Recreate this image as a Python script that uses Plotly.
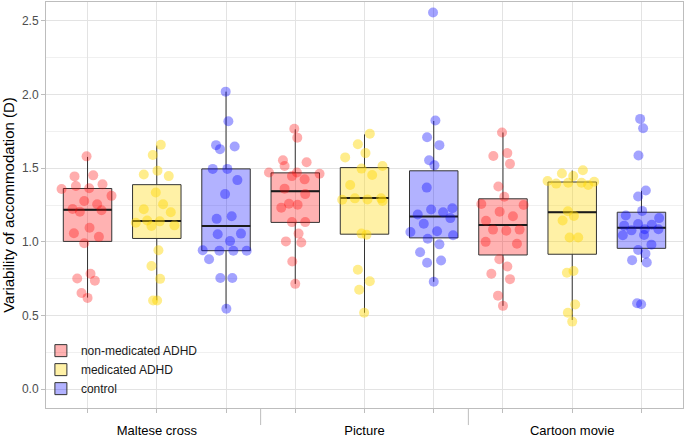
import plotly.graph_objects as go

# conditions shown along the x axis (three boxes per condition)
conditions = ["Maltese cross", "Picture", "Cartoon movie"]
groups = ["non-medicated ADHD", "medicated ADHD", "control"]

# box statistics, one value per condition
nonmed_q1 = [1.003, 1.132, 0.911]
nonmed_median = [1.217, 1.344, 1.114]
nonmed_q3 = [1.362, 1.468, 1.292]
nonmed_low = [0.622, 0.715, 0.566]
nonmed_high = [1.576, 1.763, 1.742]

med_q1 = [1.023, 1.052, 0.916]
med_median = [1.141, 1.297, 1.201]
med_q3 = [1.388, 1.504, 1.406]
med_low = [0.604, 0.519, 0.470]
med_high = [1.653, 1.729, 1.484]

ctrl_q1 = [0.940, 1.027, 0.956]
ctrl_median = [1.108, 1.172, 1.096]
ctrl_q3 = [1.495, 1.482, 1.201]
ctrl_low = [0.548, 0.729, 0.862]
ctrl_high = [2.019, 1.820, 1.346]

# individual subjects (value, horizontal jitter)
nonmed_maltese = [1.580, 1.444, 1.451, 1.359, 1.379, 1.364, 1.390, 1.312, 1.277, 1.255, 1.223,
                  1.205, 1.214, 1.096, 1.058, 1.034, 0.991, 0.784, 0.751, 0.737, 0.653, 0.620]
nonmed_maltese_jit = [-0.014, -0.188, 0.082, -0.375, -0.168, 0.024, 0.216, 0.346, -0.048, 0.139, -0.216,
                      -0.111, 0.202, 0.029, -0.197, 0.164, -0.048, 0.043, -0.149, 0.106, -0.087, 0.0]
med_maltese = [1.658, 1.589, 1.482, 1.457, 1.446, 1.335, 1.255, 1.221, 1.201, 1.130,
               1.145, 1.139, 1.108, 1.112, 0.943, 0.836, 0.749, 0.602, 0.602]
med_maltese_jit = [0.058, -0.058, 0.010, -0.188, 0.173, -0.014, 0.091, -0.188, 0.202, -0.303,
                   -0.139, 0.043, -0.077, 0.255, 0.024, -0.077, 0.048, -0.053, 0.005]
ctrl_maltese = [2.019, 1.818, 1.656, 1.629, 1.647, 1.495, 1.495, 1.419, 1.324, 1.156, 1.174,
                1.052, 1.056, 1.005, 0.943, 0.940, 0.940, 0.940, 0.882, 0.755, 0.755, 0.546]
ctrl_maltese_jit = [-0.005, 0.034, -0.144, -0.087, 0.125, -0.192, 0.019, 0.164, -0.014, -0.135, 0.082,
                    -0.120, 0.216, 0.058, -0.337, -0.096, 0.106, 0.298, -0.245, -0.082, 0.091, 0.005]

nonmed_picture = [1.767, 1.707, 1.553, 1.515, 1.540, 1.471, 1.471, 1.446, 1.424, 1.462, 1.361,
                  1.324, 1.232, 1.259, 1.252, 1.134, 1.134, 1.056, 1.003, 0.996, 0.867, 0.715]
nonmed_picture_jit = [-0.014, 0.029, -0.178, -0.154, 0.164, -0.380, 0.024, -0.048, 0.135, 0.351, -0.154,
                      0.144, -0.202, -0.091, 0.034, -0.048, 0.144, 0.048, -0.135, 0.087, -0.043, 0.0]
med_picture = [1.733, 1.662, 1.602, 1.573, 1.515, 1.497, 1.453, 1.386, 1.286, 1.295,
               1.288, 1.295, 1.277, 1.056, 1.049, 0.811, 0.733, 0.675, 0.519]
med_picture_jit = [0.077, -0.096, 0.014, -0.279, 0.260, -0.043, 0.111, -0.207, -0.322, -0.139,
                   0.043, 0.240, 0.260, -0.043, 0.029, -0.096, 0.077, -0.077, -0.005]
ctrl_picture = [2.556, 1.823, 1.709, 1.656, 1.553, 1.519, 1.368, 1.185, 1.219, 1.201, 1.228,
                1.123, 1.161, 1.067, 1.072, 1.045, 1.021, 0.983, 0.929, 0.873, 0.858, 0.729]
ctrl_picture_jit = [-0.010, 0.024, -0.096, 0.082, -0.067, 0.010, -0.101, -0.231, -0.038, 0.135, 0.269,
                    -0.144, 0.240, -0.337, 0.048, 0.279, -0.087, 0.082, -0.197, 0.106, -0.096, 0.0]

nonmed_cartoon = [1.742, 1.582, 1.602, 1.529, 1.375, 1.306, 1.257, 1.250, 1.205, 1.143, 1.174,
                  1.083, 1.076, 1.083, 1.000, 0.987, 0.882, 0.833, 0.784, 0.747, 0.635, 0.566]
nonmed_cartoon_jit = [-0.014, -0.139, 0.063, 0.101, -0.067, 0.019, -0.313, 0.298, -0.048, -0.245, 0.144,
                      -0.144, 0.048, 0.240, -0.250, 0.202, -0.053, 0.063, -0.168, 0.101, -0.072, 0.0]
med_cartoon = [1.464, 1.446, 1.486, 1.413, 1.395, 1.401, 1.401, 1.386, 1.408, 1.208,
               1.176, 1.145, 1.029, 1.029, 0.791, 0.802, 0.575, 0.519, 0.459]
med_cartoon_jit = [-0.149, 0.014, 0.154, -0.356, -0.231, -0.058, 0.135, 0.231, 0.317, -0.063,
                   0.024, -0.139, -0.038, 0.087, -0.077, 0.019, 0.043, -0.063, 0.0]
ctrl_cartoon = [1.834, 1.771, 1.586, 1.348, 1.308, 1.210, 1.179, 1.161, 1.121, 1.110, 1.116, 1.078,
                1.085, 1.085, 1.045, 1.047, 0.981, 0.945, 0.920, 0.876, 0.860, 0.584, 0.577]
ctrl_cartoon_jit = [-0.019, 0.024, -0.043, 0.063, -0.048, 0.010, -0.226, 0.255, -0.048, -0.250, 0.149, -0.144,
                    0.048, 0.245, -0.269, 0.038, 0.144, -0.048, 0.058, -0.135, 0.077, -0.063, -0.005]

fills = ["rgba(255,0,0,0.3)", "rgba(255,215,0,0.35)", "rgba(0,0,255,0.3)"]
dots = ["rgba(255,0,0,0.32)", "rgba(255,215,0,0.45)", "rgba(0,0,255,0.36)"]

stats = [
    (nonmed_q1, nonmed_median, nonmed_q3, nonmed_low, nonmed_high),
    (med_q1, med_median, med_q3, med_low, med_high),
    (ctrl_q1, ctrl_median, ctrl_q3, ctrl_low, ctrl_high),
]
points = [
    [(nonmed_maltese, nonmed_maltese_jit), (nonmed_picture, nonmed_picture_jit), (nonmed_cartoon, nonmed_cartoon_jit)],
    [(med_maltese, med_maltese_jit), (med_picture, med_picture_jit), (med_cartoon, med_cartoon_jit)],
    [(ctrl_maltese, ctrl_maltese_jit), (ctrl_picture, ctrl_picture_jit), (ctrl_cartoon, ctrl_cartoon_jit)],
]

box_w = 0.7
fig = go.Figure()

for g, name in enumerate(groups):
    pos = [c * 3 + g + 1 for c in range(len(conditions))]
    q1, med, q3, lo, hi = stats[g]
    fig.add_trace(go.Box(
        x=pos, q1=q1, median=med, q3=q3, lowerfence=lo, upperfence=hi,
        orientation="v", name=name, legendgroup=name,
        fillcolor=fills[g], line=dict(color="#333333", width=1),
        width=box_w, whiskerwidth=0, boxpoints=False, hoverinfo="skip",
    ))

# thicker median bars like ggplot
for g, name in enumerate(groups):
    pos = [c * 3 + g + 1 for c in range(len(conditions))]
    mx, my = [], []
    for p, m in zip(pos, stats[g][1]):
        mx += [p - box_w / 2, p + box_w / 2, None]
        my += [m, m, None]
    fig.add_trace(go.Scatter(x=mx, y=my, mode="lines", line=dict(color="#1a1a1a", width=2),
                             showlegend=False, hoverinfo="skip"))

# jittered subjects
for g, name in enumerate(groups):
    xs, ys = [], []
    for c, (vals, jit) in enumerate(points[g]):
        p = c * 3 + g + 1
        xs += [p + j for j in jit]
        ys += vals
    fig.add_trace(go.Scatter(x=xs, y=ys, mode="markers", legendgroup=name, showlegend=False,
                             marker=dict(size=10, color=dots[g], line=dict(width=0))))

# separators between condition groups below the panel
for sep in [3.5, 6.5]:
    fig.add_shape(type="line", xref="x", yref="paper", x0=sep, x1=sep, y0=0, y1=-0.042,
                  line=dict(color="#BDBDBD", width=1))

# white legend backdrop that hides the grid but keeps the panel border
fig.add_shape(type="rect", xref="paper", yref="paper", x0=0.0, x1=0.219, y0=0.01, y1=0.176,
              fillcolor="white", line=dict(width=0), layer="between")

ticktext = []
for c in conditions:
    ticktext += ["", c, ""]

fig.update_layout(
    width=685, height=439,
    margin=dict(l=46, r=1, t=2, b=27),
    plot_bgcolor="white", paper_bgcolor="white",
    font=dict(family="Liberation Sans, Arial, sans-serif", color="#000000"),
    showlegend=True,
    legend=dict(x=-0.008, y=0.012, xanchor="left", yanchor="bottom", bgcolor="rgba(0,0,0,0)",
                font=dict(size=12, color="#1a1a1a"), tracegroupgap=0),
    xaxis=dict(
        range=[0.4, 9.6], tickvals=list(range(1, 10)), ticktext=ticktext,
        ticks="outside", ticklen=4, tickcolor="#BDBDBD", ticklabelstandoff=6,
        tickfont=dict(size=13, color="#000000"),
        showgrid=True, gridcolor="#E3E3E3", gridwidth=1, zeroline=False,
        showline=True, linecolor="#BDBDBD", linewidth=1, mirror=True,
    ),
    yaxis=dict(
        range=[-0.127, 2.627], dtick=0.5, tick0=0, tickformat=".1f",
        ticks="outside", ticklen=4, tickcolor="#BDBDBD",
        tickfont=dict(size=12, color="#4D4D4D"),
        showgrid=True, gridcolor="#E3E3E3", gridwidth=1, zeroline=False,
        minor=dict(dtick=0.25, showgrid=True, gridcolor="#F0F0F0", gridwidth=1),
        showline=True, linecolor="#BDBDBD", linewidth=1, mirror=True,
        title=dict(text="Variability of accommodation (D)", font=dict(size=15, color="#000000"), standoff=4),
    ),
)

# drop the browser's default 8px body margin so the figure sits at the page corner
fig.write_html("out.html", config={"displayModeBar": False},
               post_script="document.body.style.margin='0';document.body.style.overflow='hidden';")
